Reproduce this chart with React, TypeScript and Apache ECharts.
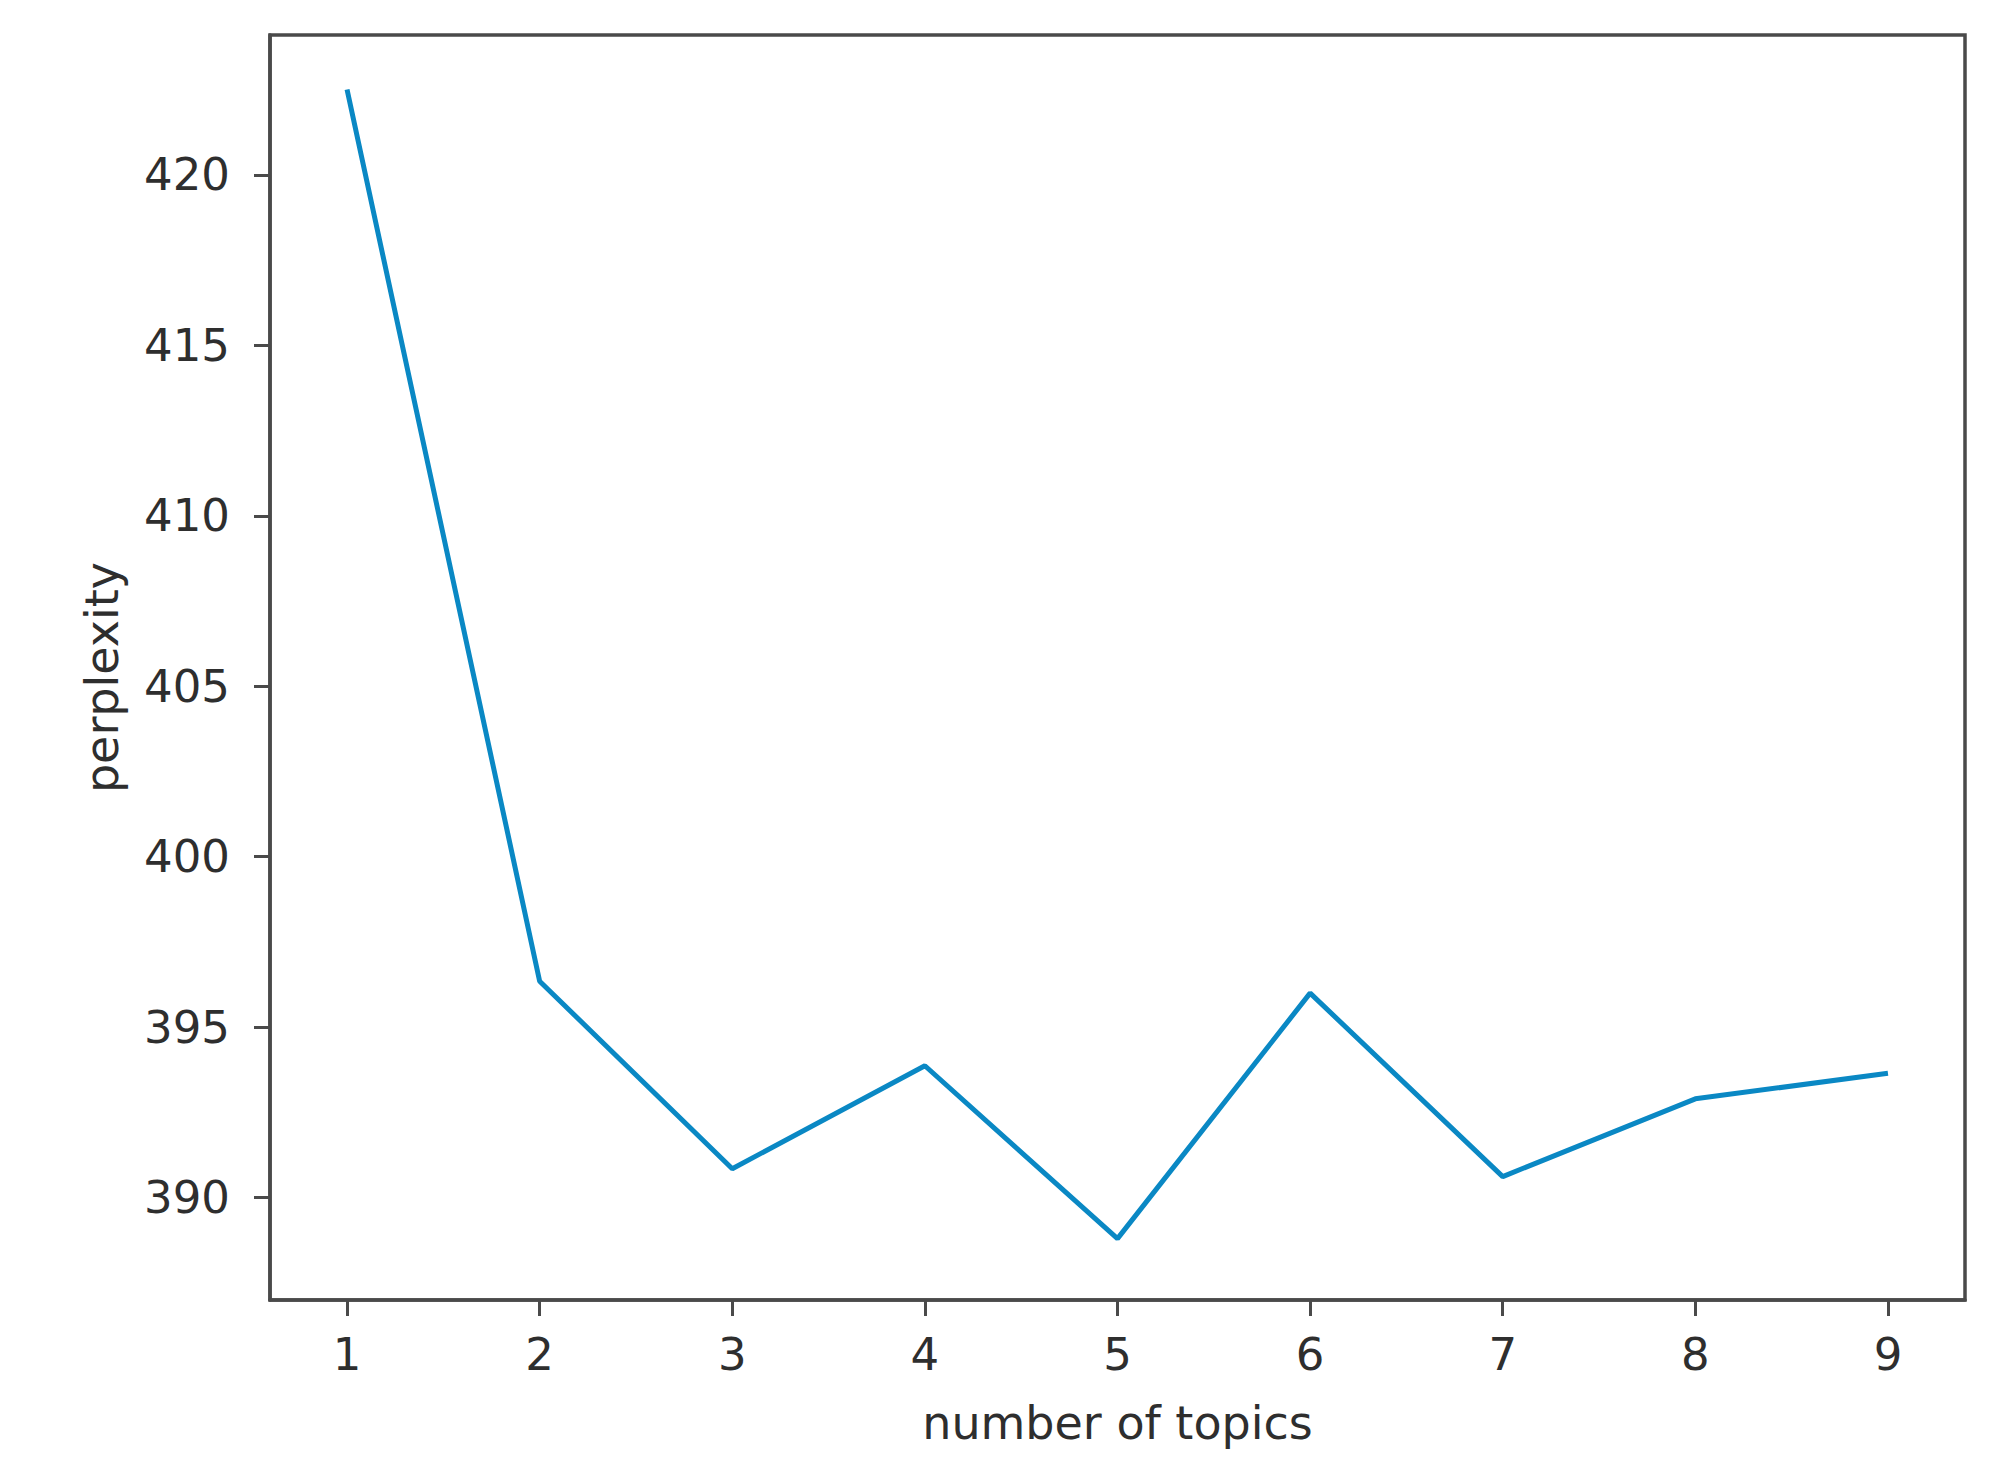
import React, { useEffect, useRef } from "react";
import * as echarts from "echarts";

const topics = [1, 2, 3, 4, 5, 6, 7, 8, 9];
const perplexity = [422.5, 396.35, 390.85, 393.87, 388.8, 396.0, 390.62, 392.9, 393.65];
const xTicks = [1, 2, 3, 4, 5, 6, 7, 8, 9];
const yTicks = [390, 395, 400, 405, 410, 415, 420];

const FONT = "DejaVu Sans";
const AXIS_COLOR = "#4a4a4a";
const TEXT_COLOR = "#2e2e2e";

export default function App() {
  const ref = useRef<HTMLDivElement>(null);
  useEffect(() => {
    if (!ref.current) return;
    const chart = echarts.init(ref.current, null, { renderer: "svg" });
    chart.setOption({
      animation: false,
      backgroundColor: "#ffffff",
      grid: {
        left: 270,
        top: 35,
        width: 1695,
        height: 1265,
        show: true,
        borderColor: AXIS_COLOR,
        borderWidth: 3.5,
        containLabel: false,
      },
      xAxis: {
        type: "value",
        min: 0.6,
        max: 9.4,
        name: "number of topics",
        nameLocation: "middle",
        nameGap: 100,
        nameTextStyle: { fontFamily: FONT, fontSize: 46, color: TEXT_COLOR },
        axisLine: { show: true, lineStyle: { color: AXIS_COLOR, width: 3.5 } },
        axisTick: { show: true, length: 16, customValues: xTicks, lineStyle: { color: AXIS_COLOR, width: 3 } },
        axisLabel: { customValues: xTicks, margin: 32, fontFamily: FONT, fontSize: 45, color: TEXT_COLOR },
        splitLine: { show: false },
      },
      yAxis: {
        type: "value",
        min: 387.0,
        max: 424.1,
        name: "perplexity",
        nameLocation: "middle",
        nameGap: 145,
        nameTextStyle: { fontFamily: FONT, fontSize: 46, color: TEXT_COLOR, padding: [0, 20, 0, 0] },
        axisLine: { show: true, lineStyle: { color: AXIS_COLOR, width: 3.5 } },
        axisTick: { show: true, length: 16, customValues: yTicks, lineStyle: { color: AXIS_COLOR, width: 3 } },
        axisLabel: { customValues: yTicks, margin: 40, fontFamily: FONT, fontSize: 45, color: TEXT_COLOR },
        splitLine: { show: false },
      },
      series: [
        {
          type: "line",
          data: topics.map((t, i) => [t, perplexity[i]]),
          showSymbol: false,
          symbol: "none",
          lineStyle: { color: "#0a88c4", width: 5 },
          itemStyle: { color: "#0a88c4" },
        },
      ],
    });
    return () => chart.dispose();
  }, []);
  return (
    <div
      ref={ref}
      style={{ position: "fixed", left: 0, top: 0, width: 2015, height: 1484, background: "#fff" }}
    />
  );
}
